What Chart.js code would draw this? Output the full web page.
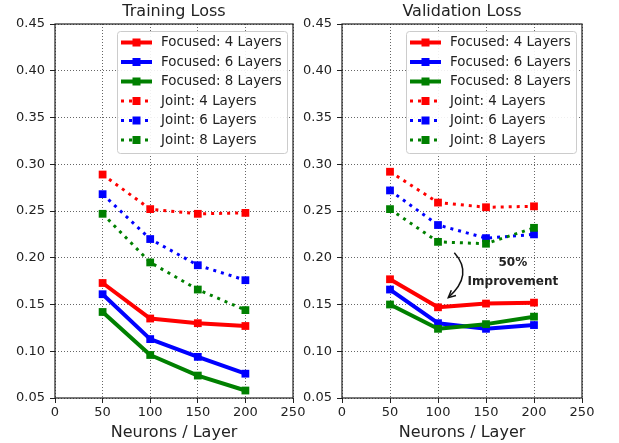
<!DOCTYPE html>
<html>
<head>
<meta charset="utf-8">
<script src="https://cdn.jsdelivr.net/npm/chart.js@4.4.1/dist/chart.umd.min.js"></script>
<style>
html, body { margin: 0; padding: 0; background: #fff; }
#wrap { position: relative; width: 619px; height: 443px; overflow: hidden; }
canvas { position: absolute; top: 0; }
#trainChart { left: 0; width: 320px; height: 443px; }
#valChart { left: 290px; width: 329px; height: 443px; }
</style>
</head>
<body>
<div id="wrap">
  <canvas id="trainChart" width="320" height="443"></canvas>
  <canvas id="valChart" width="329" height="443"></canvas>
</div>
<script>
// Loss vs neurons per layer - two panels

const neurons = [50, 100, 150, 200];
const xTicks = [0, 50, 100, 150, 200, 250];
const yTicks = [0.05, 0.10, 0.15, 0.20, 0.25, 0.30, 0.35, 0.40, 0.45];

const seriesNames = [
    'Focused: 4 Layers', 'Focused: 6 Layers', 'Focused: 8 Layers',
    'Joint: 4 Layers', 'Joint: 6 Layers', 'Joint: 8 Layers',
];
const seriesColors = ['#ff0000', '#0000ff', '#008000'];

// Training loss
const trainFocused4 = [0.173, 0.135, 0.130, 0.127];
const trainFocused6 = [0.161, 0.113, 0.094, 0.076];
const trainFocused8 = [0.142, 0.096, 0.074, 0.058];
const trainJoint4 = [0.289, 0.252, 0.247, 0.248];
const trainJoint6 = [0.268, 0.220, 0.192, 0.176];
const trainJoint8 = [0.247, 0.195, 0.166, 0.144];

// Validation loss
const valFocused4 = [0.177, 0.147, 0.151, 0.152];
const valFocused6 = [0.166, 0.130, 0.124, 0.128];
const valFocused8 = [0.150, 0.124, 0.129, 0.137];
const valJoint4 = [0.292, 0.259, 0.254, 0.255];
const valJoint6 = [0.272, 0.235, 0.221, 0.225];
const valJoint8 = [0.252, 0.217, 0.215, 0.232];

// annotation on the validation panel (in data units)
const noteText = ['50%', 'Improvement'];
const noteX = 178;
const noteY = [0.194, 0.174];
const arrowFrom = { x: 117, y: 0.2054 };
const arrowCtrl = { x: 137.6, y: 0.182 };
const arrowTo = { x: 110.7, y: 0.1573 };

Chart.defaults.font.family = '"DejaVu Sans", sans-serif';
Chart.defaults.color = '#222';

function buildDatasets(valuesList) {
    return valuesList.map((vals, i) => {
        const joint = i >= 3;
        const color = seriesColors[i % 3];
        return {
            label: seriesNames[i],
            data: neurons.map((x, k) => ({ x: x, y: vals[k] })),
            borderColor: color,
            backgroundColor: color,
            borderWidth: joint ? 3 : 4,
            borderDash: joint ? [3, 5] : [],
            borderCapStyle: 'butt',
            borderJoinStyle: 'round',
            pointStyle: 'rect',
            pointRadius: 5.5,
            pointBorderWidth: 0,
            tension: 0,
            fill: false,
            order: 6 - i,
        };
    });
}

// frame round the plot area
const framePlugin = {
    id: 'frame',
    afterDraw(chart) {
        const a = chart.chartArea;
        const ctx = chart.ctx;
        ctx.save();
        ctx.strokeStyle = '#222';
        ctx.lineWidth = 1.2;
        ctx.strokeRect(a.left, a.top, a.right - a.left, a.bottom - a.top);
        ctx.restore();
    },
};

// legend box inside the upper right of the plot area
const boxLegendPlugin = {
    id: 'boxLegend',
    afterDraw(chart) {
        const a = chart.chartArea;
        const ctx = chart.ctx;
        const w = 170, h = 122;
        const left = a.right - 6 - w;
        const top = a.top + 7;
        ctx.save();
        ctx.fillStyle = 'rgba(255,255,255,0.9)';
        ctx.strokeStyle = '#cccccc';
        ctx.lineWidth = 1;
        ctx.beginPath();
        ctx.roundRect(left + 0.5, top + 0.5, w, h, 3);
        ctx.fill();
        ctx.stroke();

        ctx.font = '13.4px "DejaVu Sans", sans-serif';
        ctx.textBaseline = 'middle';
        chart.data.datasets.forEach((ds, i) => {
            const y = top + 11.5 + i * 19.5;
            ctx.strokeStyle = ds.borderColor;
            ctx.lineWidth = ds.borderWidth;
            ctx.lineCap = 'butt';
            ctx.setLineDash(ds.borderDash);
            ctx.beginPath();
            ctx.moveTo(left + 4, y);
            ctx.lineTo(left + 35, y);
            ctx.stroke();
            ctx.setLineDash([]);
            ctx.fillStyle = ds.backgroundColor;
            ctx.fillRect(left + 19.5 - 4, y - 4, 8, 8);
            ctx.fillStyle = '#222';
            ctx.fillText(ds.label, left + 44, y + 0.5);
        });
        ctx.restore();
    },
};

// curved arrow and note on the validation panel
const notePlugin = {
    id: 'note',
    afterDatasetsDraw(chart) {
        const xs = chart.scales.x, ys = chart.scales.y;
        const ctx = chart.ctx;
        const p0 = { x: xs.getPixelForValue(arrowFrom.x), y: ys.getPixelForValue(arrowFrom.y) };
        const c = { x: xs.getPixelForValue(arrowCtrl.x), y: ys.getPixelForValue(arrowCtrl.y) };
        const p2 = { x: xs.getPixelForValue(arrowTo.x), y: ys.getPixelForValue(arrowTo.y) };
        ctx.save();
        ctx.strokeStyle = '#111';
        ctx.lineWidth = 1.5;
        ctx.beginPath();
        ctx.moveTo(p0.x, p0.y);
        ctx.quadraticCurveTo(c.x, c.y, p2.x, p2.y);
        ctx.stroke();
        const ang = Math.atan2(p2.y - c.y, p2.x - c.x);
        const len = 8;
        ctx.beginPath();
        ctx.moveTo(p2.x - len * Math.cos(ang - 0.45), p2.y - len * Math.sin(ang - 0.45));
        ctx.lineTo(p2.x, p2.y);
        ctx.lineTo(p2.x - len * Math.cos(ang + 0.45), p2.y - len * Math.sin(ang + 0.45));
        ctx.stroke();

        ctx.fillStyle = '#222';
        ctx.font = 'bold 12px "DejaVu Sans", sans-serif';
        ctx.textAlign = 'center';
        ctx.textBaseline = 'middle';
        noteText.forEach((t, i) => {
            ctx.fillText(t, xs.getPixelForValue(noteX), ys.getPixelForValue(noteY[i]));
        });
        ctx.restore();
    },
};

function makeChart(canvasId, titleText, datasets, axisWidth, padRight, extraPlugins) {
    return new Chart(document.getElementById(canvasId), {
        type: 'line',
        data: { datasets: datasets },
        options: {
            responsive: false,
            animation: false,
            devicePixelRatio: 1,
            layout: { padding: { left: 0, right: padRight, top: 0, bottom: 0 } },
            plugins: {
                legend: { display: false },
                tooltip: { enabled: false },
                title: {
                    display: true,
                    text: titleText,
                    fullSize: false,
                    color: '#222',
                    font: { size: 16, weight: 'normal' },
                    padding: { top: 2.4, bottom: 2.4 },
                },
            },
            scales: {
                x: {
                    type: 'linear',
                    min: xTicks[0],
                    max: xTicks[xTicks.length - 1],
                    afterBuildTicks: (s) => { s.ticks = xTicks.map(v => ({ value: v })); },
                    ticks: { color: '#222', font: { size: 13 }, padding: 2, maxRotation: 0 },
                    grid: {
                        color: 'rgba(0,0,0,0.6)',
                        lineWidth: 1,
                        tickLength: 5,
                        tickColor: '#222',
                        tickBorderDash: [],
                    },
                    border: { display: false, dash: [1, 2] },
                    title: {
                        display: true,
                        text: 'Neurons / Layer',
                        color: '#222',
                        font: { size: 16 },
                        padding: { top: 0, bottom: 1 },
                    },
                    afterFit: (s) => { s.height = 45; },
                },
                y: {
                    type: 'linear',
                    min: yTicks[0],
                    max: yTicks[yTicks.length - 1],
                    afterBuildTicks: (s) => { s.ticks = yTicks.map(v => ({ value: v })); },
                    ticks: {
                        color: '#222',
                        font: { size: 13 },
                        padding: 5,
                        callback: (v) => Number(v).toFixed(2),
                    },
                    grid: {
                        color: 'rgba(0,0,0,0.6)',
                        lineWidth: 1,
                        tickLength: 5,
                        tickColor: '#222',
                        tickBorderDash: [],
                    },
                    border: { display: false, dash: [1, 2] },
                    afterFit: (s) => { s.width = axisWidth; },
                },
            },
        },
        plugins: [framePlugin, boxLegendPlugin].concat(extraPlugins),
    });
}

makeChart('trainChart', 'Training Loss',
    buildDatasets([trainFocused4, trainFocused6, trainFocused8, trainJoint4, trainJoint6, trainJoint8]),
    55, 27, []);

makeChart('valChart', 'Validation Loss',
    buildDatasets([valFocused4, valFocused6, valFocused8, valJoint4, valJoint6, valJoint8]),
    52, 37, [notePlugin]);
</script>
</body>
</html>
